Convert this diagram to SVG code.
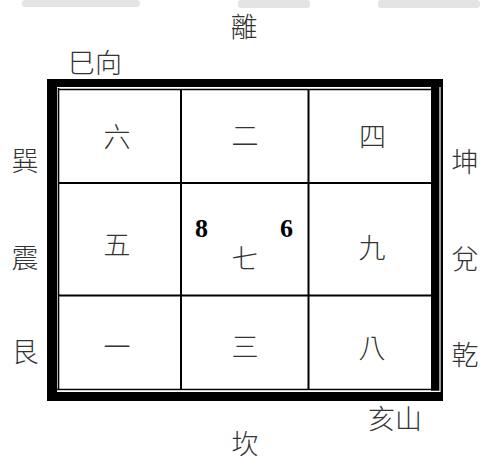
<svg xmlns="http://www.w3.org/2000/svg" width="480" height="464" viewBox="0 0 480 464">
<style>
.cjk{font-family:"Noto Sans CJK TC","Noto Sans CJK SC",sans-serif;font-size:27px;font-weight:300;fill:#333;text-anchor:middle}
.num{font-family:"Liberation Serif",serif;font-size:26px;font-weight:bold;fill:#000}
.thick{fill:#000}
.grid{stroke:#000;stroke-width:2;fill:none}
.thin{stroke:#000;stroke-width:1.6;fill:none}
</style>
<rect width="480" height="464" fill="#fff"/>
<g id="watermark" fill="#e4e4e4">
<rect x="22" y="0" width="118" height="7" rx="3"/>
<rect x="238" y="0" width="72" height="8" rx="3"/>
<rect x="378" y="0" width="102" height="8" rx="3"/>
</g>
<g id="frame">
<rect class="thick" x="47" y="79" width="396" height="8"/>
<rect class="thick" x="47" y="79" width="10" height="322"/>
<rect class="thick" x="431" y="79" width="12" height="322"/>
<rect class="thick" x="47" y="392" width="396" height="9"/>
<line class="thin" x1="58.5" y1="88" x2="58.5" y2="390"/>
<line class="thin" x1="58" y1="89.5" x2="431" y2="89.5"/>
<line class="thin" x1="57" y1="389.5" x2="439.5" y2="389.5"/>
<path d="M440 87 V391.3 H57" stroke="#fff" stroke-width="1.2" fill="none"/>
</g>
<g id="connectors">
<line class="grid" x1="181" y1="89" x2="181" y2="390"/>
<line class="grid" x1="308.5" y1="89" x2="308.5" y2="390"/>
<line class="grid" x1="58" y1="183" x2="431" y2="183"/>
<line class="grid" x1="58" y1="295.5" x2="431" y2="295.5"/>
</g>
<g id="labels">
<text class="cjk" x="244" y="37">離</text>
<text class="cjk" x="95" y="72.5">巳向</text>
<text class="cjk" x="25" y="171">巽</text>
<text class="cjk" x="25" y="267.5">震</text>
<text class="cjk" x="25" y="362">艮</text>
<text class="cjk" x="465" y="172">坤</text>
<text class="cjk" x="465" y="269">兌</text>
<text class="cjk" x="465" y="365">乾</text>
<text class="cjk" x="395" y="428.5">亥山</text>
<text class="cjk" x="245" y="454">坎</text>
</g>
<g id="cell-1"><text class="cjk" x="117" y="146.5">六</text></g>
<g id="cell-2"><text class="cjk" x="245" y="146">二</text></g>
<g id="cell-3"><text class="cjk" x="372.5" y="146.5">四</text></g>
<g id="cell-4"><text class="cjk" x="117" y="255">五</text></g>
<g id="cell-5">
<text class="cjk" x="245" y="268.5">七</text>
<text class="num" x="195" y="237">8</text>
<text class="num" x="280" y="237">6</text>
</g>
<g id="cell-6"><text class="cjk" x="372" y="257.5">九</text></g>
<g id="cell-7"><text class="cjk" x="117" y="357">一</text></g>
<g id="cell-8"><text class="cjk" x="245" y="357">三</text></g>
<g id="cell-9"><text class="cjk" x="372" y="358">八</text></g>
</svg>
